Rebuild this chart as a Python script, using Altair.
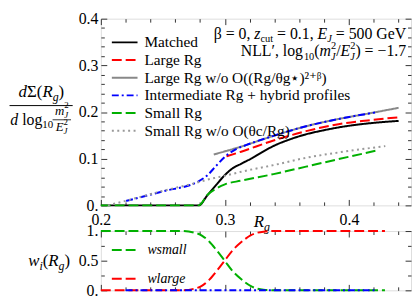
import altair as alt
import pandas as pd

FONT = "Liberation Serif, Times New Roman, serif"

# ---------------- data ----------------
series_names = [
    "Matched",
    "Large Rg",
    "Large Rg w/o O((Rg/θg⋆)²⁺ᵝ)",
    "Intermediate Rg + hybrid profiles",
    "Small Rg",
    "Small Rg w/o O(θc/Rg)",
]
series_colors = ["#000000", "#ff0000", "#888888", "#0000ff", "#00b000", "#999999"]
series_dashes = [[1, 0], [10, 4], [1, 0], [7, 3, 2, 3], [10, 4], [2, 3.5]]

matched_x = [0.20, 0.279, 0.2857, 0.293, 0.300, 0.306, 0.313, 0.321, 0.330, 0.339, 0.352, 0.365, 0.378, 0.3915, 0.410, 0.425, 0.440]
matched_y = [0.0, 0.0, 0.021, 0.044, 0.065, 0.079, 0.089, 0.100, 0.114, 0.127, 0.141, 0.152, 0.160, 0.167, 0.174, 0.178, 0.181]

large_x = [0.3013, 0.3131, 0.3392, 0.3654, 0.3915, 0.415, 0.441]
large_y = [0.105, 0.115, 0.139, 0.159, 0.174, 0.182, 0.189]

largewo_x = [0.291, 0.3131, 0.3392, 0.3654, 0.3915, 0.415, 0.440]
largewo_y = [0.109, 0.126, 0.149, 0.1695, 0.185, 0.1965, 0.209]

inter_x = [0.2204, 0.25, 0.2791, 0.2857, 0.293, 0.300, 0.308, 0.317, 0.3392, 0.3654, 0.3915, 0.421]
inter_y = [0.0095, 0.030, 0.052, 0.064, 0.085, 0.104, 0.119, 0.129, 0.149, 0.1695, 0.185, 0.199]

small_x = [0.20, 0.279, 0.2857, 0.293, 0.300, 0.3131, 0.3392, 0.3654, 0.3915, 0.4215]
small_y = [0.0, 0.0, 0.022, 0.036, 0.045, 0.053, 0.067, 0.083, 0.099, 0.117]

smallwo_x = [0.2057, 0.2204, 0.25, 0.2791, 0.2857, 0.300, 0.3131, 0.3392, 0.3654, 0.3915, 0.4293]
smallwo_y = [0.0, 0.010, 0.031, 0.050, 0.055, 0.0635, 0.072, 0.0863, 0.1019, 0.1134, 0.1269]

weight_names = ["wsmall", "wlarge"]
weight_colors = ["#00b000", "#ff0000"]
wsmall_x = [0.20, 0.266, 0.275, 0.2817, 0.2875, 0.2935, 0.2998, 0.306, 0.313, 0.321, 0.331, 0.340, 0.429]
wsmall_y = [1.0, 1.0, 0.975, 0.92, 0.82, 0.67, 0.50, 0.33, 0.19, 0.07, 0.01, 0.0, 0.0]
wlarge_x = [0.20, 0.266, 0.275, 0.2817, 0.2875, 0.2935, 0.2998, 0.306, 0.313, 0.321, 0.331, 0.340, 0.429]
wlarge_y = [0.0, 0.0, 0.025, 0.08, 0.18, 0.33, 0.50, 0.67, 0.81, 0.93, 0.99, 1.0, 1.0]
wint_x = [0.22, 0.421]
wint_y = [0.0, 0.0]

x_major = [0.2, 0.3, 0.4]
x_minor = [0.22, 0.24, 0.26, 0.28, 0.32, 0.34, 0.36, 0.38, 0.42, 0.44]
y_major = [0.0, 0.1, 0.2, 0.3, 0.4]
y_minor = [0.02, 0.04, 0.06, 0.08, 0.12, 0.14, 0.16, 0.18, 0.22, 0.24, 0.26, 0.28, 0.32, 0.34, 0.36, 0.38]
w_major = [0.0, 0.5, 1.0]
w_minor = [0.25, 0.75]

# text fragments (main text, subscripts and superscripts)
ann1_text = ["β = 0, ", "z", "cut", " = 0.1, ", "E", "J", " = 500 GeV"]
ann2_text = ["NLL′, log", "10", "(", "m", "2", "J", "/", "E", "2", "J", ") = −1.7"]
num_text = ["d", "Σ(", "R", "g", ")"]
den_text = ["d", " log", "10"]
mfrac_text = ["m", "2", "J"]
efrac_text = ["E", "2", "J"]
wt_text = ["w", "i", "(", "R", "g", ")"]
xt_text = ["R", "g"]

# ---------------- build tables ----------------
def long(xs, ys, name):
    return pd.DataFrame({"Rg": xs, "val": ys, "series": name})

df_up = pd.concat([
    long(matched_x, matched_y, series_names[0]),
    long(large_x, large_y, series_names[1]),
    long(largewo_x, largewo_y, series_names[2]),
    long(inter_x, inter_y, series_names[3]),
    long(small_x, small_y, series_names[4]),
    long(smallwo_x, smallwo_y, series_names[5]),
], ignore_index=True)

df_w = pd.concat([
    long(wsmall_x, wsmall_y, weight_names[0]),
    long(wlarge_x, wlarge_y, weight_names[1]),
], ignore_index=True)
df_wint = long(wint_x, wint_y, "wint")

# ---------------- layout ----------------
W, H1, H2, GAP = 314, 189, 60, 26
sx = W / 319.3
sy1 = H1 / 197.0
sy2 = H2 / 62.5


def ux(p):
    return (p - 95.7) * sx


def uy(p):
    return (p - 15.0) * sy1


def ly(p):
    return (p - 239.5) * sy2


TICK = "#333333"

# Times / Liberation Serif advance widths (per 1000 em)
REG = {" ": 250, "=": 564, "0": 500, "1": 500, "2": 500, "5": 500, "7": 500, ",": 250,
       ".": 250, "β": 500, "G": 722, "e": 444, "V": 722, "N": 722, "L": 611, "′": 275,
       "l": 278, "o": 500, "g": 500, "(": 333, ")": 333, "/": 278, "−": 564, "c": 444,
       "u": 500, "t": 278, "Σ": 585}
ITA = {"z": 389, "E": 611, "J": 444, "m": 722, "d": 500, "R": 611, "g": 500, "w": 667,
       "i": 278}


def tw(s, size, italic):
    tab = ITA if italic else REG
    return sum(tab.get(ch, REG.get(ch, 500)) for ch in s) * size / 1000.0


def piece(s, x, y, size=17, italic=False, align="left"):
    return alt.Chart(pd.DataFrame({"t": [s]})).mark_text(
        font=FONT, fontSize=size, fontStyle="italic" if italic else "normal",
        align=align, baseline="alphabetic", color="black"
    ).encode(x=alt.value(x), y=alt.value(y), text="t:N")


def run(items, x0, y0, anchor="left"):
    """items: list of groups; each group is a list of (text, size, italic, dy)
    drawn at the same x; advance is the widest member of the group."""
    advs = [max(tw(t, s, i) for t, s, i, dy in g) for g in items]
    total = sum(advs)
    x = x0 - total if anchor == "right" else (x0 - total / 2 if anchor == "center" else x0)
    out = []
    for g, adv in zip(items, advs):
        for t, s, i, dy in g:
            lead = tw(t[: len(t) - len(t.lstrip())], s, False)
            out.append(piece(t.strip(), x + lead, y0 + dy, s, i))
        x += adv
    return out


def bar(x1, x2, y, w=1.0):
    return alt.Chart(pd.DataFrame({"a": [0]})).mark_rule(
        color="black", strokeWidth=w
    ).encode(x=alt.value(x1), x2=alt.value(x2), y=alt.value(y))


def ax(orient, values, size, labels=False, expr=None, pad=3, fmt=None):
    kw = dict(orient=orient, values=values, tickSize=size, offset=-size,
              labels=labels, title=None, domain=False, grid=False, ticks=True,
              tickColor=TICK, tickWidth=1)
    if labels:
        kw.update(labelFont=FONT, labelFontSize=16, labelPadding=pad,
                  labelColor="black", labelFlush=False, labelOverlap=False)
        if expr:
            kw["labelExpr"] = expr
        if fmt:
            kw["format"] = fmt
    return alt.Axis(**kw)


xs = alt.Scale(domain=[0.2, 0.45], nice=False, zero=False)
ys = alt.Scale(domain=[0, 0.4], nice=False, zero=False)
ws = alt.Scale(domain=[0, 1], nice=False, zero=False)

# ---------------- upper panel ----------------
leg_up = dict(orient="none", legendX=ux(106), legendY=uy(40) - 8, title=None,
              symbolType="stroke", symbolSize=676, symbolStrokeWidth=2,
              clipHeight=16, rowPadding=17.6 * sy1 - 16, labelFont=FONT,
              labelFontSize=15.5, labelOffset=6, padding=0, labelLimit=400,
              labelColor="black")

up_base = alt.Chart(df_up)
up_lines = up_base.mark_line(strokeWidth=2, interpolate="monotone").encode(
    x=alt.X("Rg:Q", scale=xs, axis=ax("bottom", x_major, 6, True, pad=6, fmt=".1f")),
    y=alt.Y("val:Q", scale=ys, axis=ax("left", y_major, 6, True, pad=3,
            expr="datum.value == 0 ? '0.' : format(datum.value, '.1f')")),
    color=alt.Color("series:N", scale=alt.Scale(domain=series_names, range=series_colors),
                    legend=alt.Legend(**leg_up)),
    strokeDash=alt.StrokeDash("series:N", scale=alt.Scale(domain=series_names, range=series_dashes),
                              legend=alt.Legend(**leg_up)),
)


def carrier(base, xsc, ysc, xo, xv, xsz, yo, yv, ysz):
    return base.mark_line(strokeOpacity=0).encode(
        x=alt.X("Rg:Q", scale=xsc, axis=ax(xo, xv, xsz)),
        y=alt.Y("val:Q", scale=ysc, axis=ax(yo, yv, ysz)),
    )


up_c1 = carrier(up_base, xs, ys, "bottom", x_minor, 3.5, "left", y_minor, 3.5)
up_c2 = carrier(up_base, xs, ys, "top", x_major, 6, "right", y_major, 6)
up_c3 = carrier(up_base, xs, ys, "top", x_minor, 3.5, "right", y_minor, 3.5)

# annotation (two right-aligned lines with sub/superscripts)
A, S = 16, 10.5
a1 = ann1_text
ann = run([[(a1[0], A, False, 0)], [(a1[1], A, True, 0)], [(a1[2], S, False, 3.5)],
           [(a1[3], A, False, 0)], [(a1[4], A, True, 0)], [(a1[5], S, True, 3.5)],
           [(a1[6], A, False, 0)]], ux(410), uy(36), "right")
a2 = ann2_text
ann += run([[(a2[0], A, False, 0)], [(a2[1], S, False, 3.5)], [(a2[2], A, False, 0)],
            [(a2[3], A, True, 0)], [(a2[4], S, False, -7), (a2[5], S, True, 4)],
            [(a2[6], A, False, 0)], [(a2[7], A, True, 0)],
            [(a2[8], S, False, -7), (a2[9], S, True, 4)],
            [(a2[10], A, False, 0)]], ux(410), uy(54.5), "right")

# y title as a fraction: dΣ(Rg) / d log10 (mJ^2/EJ^2)
nt = num_text
num = run([[(nt[0], 17, True, 0)], [(nt[1], 17, False, 0)], [(nt[2], 17, True, 0)],
           [(nt[3], 12, True, 4)], [(nt[4], 17, False, 0)]], ux(34.5), uy(98), "center")
dt = den_text
den = run([[(dt[0], 16, True, 0)], [(dt[1], 16, False, 0)], [(dt[2], 11, False, 3.5)]],
          ux(2.5), uy(127))
mt, et = mfrac_text, efrac_text
smallfrac = run([[(mt[0], 13, True, 0)], [(mt[1], 9, False, -6.5), (mt[2], 9, True, 3)]],
                ux(55.5), uy(116.5), "center")
smallfrac += run([[(et[0], 13, True, 0)], [(et[1], 9, False, -6.5), (et[2], 9, True, 3)]],
                 ux(55.5), uy(133.5), "center")
smallfrac += [bar(ux(46), ux(65), uy(121.7), 0.8)]
frac_bar = [bar(ux(1.7), ux(66.7), uy(106.7), 1.0)]

# x title Rg
xt = run([[(xt_text[0], 17, True, 0)], [(xt_text[1], 12, True, 4)]], ux(253), H1 + 21.5)

upper = alt.layer(up_lines, up_c1, up_c2, up_c3, *ann, *num, *den, *smallfrac,
                  *frac_bar, *xt).resolve_axis(x="independent", y="independent").properties(
    width=W, height=H1)

# ---------------- lower panel ----------------
leg_lo = dict(orient="none", legendX=ux(106), legendY=ly(257.3) - 6, title=None,
              symbolType="stroke", symbolSize=676, symbolStrokeWidth=2,
              clipHeight=16, rowPadding=29.4 * sy2 - 15, labelFont=FONT,
              labelFontSize=14, labelFontStyle="italic", labelOffset=9, padding=0,
              labelLimit=400, labelColor="black")

lo_base = alt.Chart(df_w)
lo_lines = lo_base.mark_line(strokeWidth=2, interpolate="monotone").encode(
    x=alt.X("Rg:Q", scale=xs, axis=ax("bottom", x_major, 6)),
    y=alt.Y("val:Q", scale=ws, axis=ax("left", w_major, 6, True, pad=3,
            expr="datum.value == 0 ? '0.' : (datum.value == 1 ? '1.' : '0.5')")),
    color=alt.Color("series:N", scale=alt.Scale(domain=weight_names, range=weight_colors),
                    legend=alt.Legend(**leg_lo)),
    strokeDash=alt.StrokeDash("series:N", scale=alt.Scale(domain=weight_names, range=[[10, 4], [10, 4]]),
                              legend=alt.Legend(**leg_lo)),
)
lo_int = alt.Chart(df_wint).mark_line(strokeWidth=2, color="#0000ff", strokeDash=[7, 3, 2, 3]).encode(
    x=alt.X("Rg:Q", scale=xs, axis=None), y=alt.Y("val:Q", scale=ws, axis=None))

lo_c1 = carrier(lo_base, xs, ws, "bottom", x_minor, 3.5, "left", w_minor, 3.5)
lo_c2 = carrier(lo_base, xs, ws, "top", x_major, 6, "right", w_major, 6)
lo_c3 = carrier(lo_base, xs, ws, "top", x_minor, 3.5, "right", w_minor, 3.5)

wtt = wt_text
wt = run([[(wtt[0], 17, True, 0)], [(wtt[1], 12, True, 4)], [(wtt[2], 17, False, 0)],
          [(wtt[3], 17, True, 0)], [(wtt[4], 12, True, 4)], [(wtt[5], 17, False, 0)]],
         ux(42.5), ly(276), "center")

lower = alt.layer(lo_lines, lo_int, lo_c1, lo_c2, lo_c3, *wt).resolve_axis(
    x="independent", y="independent").properties(width=W, height=H2)

chart = alt.vconcat(upper, lower, spacing=GAP, bounds="flush").resolve_scale(
    color="independent", strokeDash="independent"
).properties(padding=0).configure_view(stroke=TICK, strokeWidth=1).configure(font=FONT)

chart.save("out.html", embed_options={"renderer": "svg", "actions": False})
